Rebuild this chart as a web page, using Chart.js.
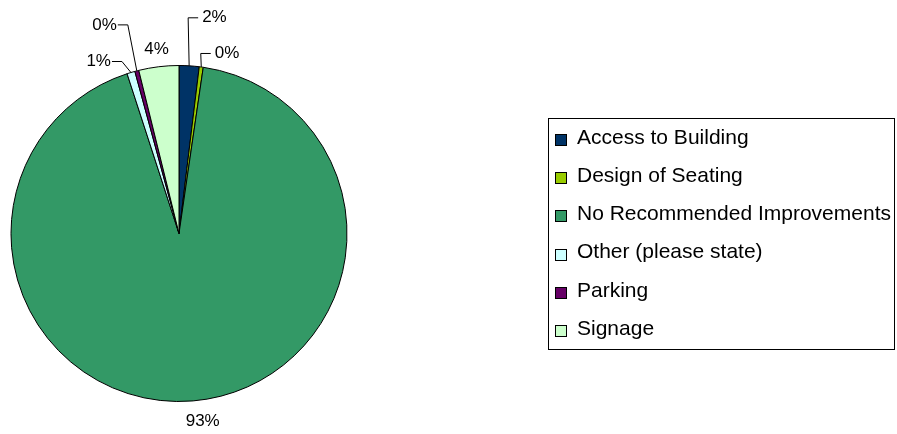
<!DOCTYPE html>
<html>
<head>
<meta charset="utf-8">
<script src="https://cdn.jsdelivr.net/npm/chart.js@4/dist/chart.umd.min.js"></script>
<style>
  html, body { margin: 0; padding: 0; background: #fff; }
  #wrap { width: 897px; height: 434px; }
</style>
</head>
<body>
<div id="wrap"><canvas id="pie" width="897" height="434"></canvas></div>
<script>
// Survey responses: suggested improvements
const categories = [
  'Access to Building',
  'Design of Seating',
  'No Recommended Improvements',
  'Other (please state)',
  'Parking',
  'Signage'
];
const responses = [5, 1, 241, 2, 1, 10];
const sliceColors = ['#003366', '#99CC00', '#339966', '#CCFFFF', '#660066', '#CCFFCC'];

// How each percentage label is placed: either radially outside the slice,
// or via a leader line with an elbow (offset from the slice edge) and a short tail.
const labelPlacement = [
  { elbow: [-1, -48], tail: 10 },
  { elbow: [-0.5, -13.5], tail: 10 },
  { radial: 18, nudge: [8, 2] },
  { elbow: [-9, -11], tail: -10 },
  { elbow: [-9, -46], tail: -10 },
  { radial: 18, nudge: [0, 0] }
];

const LABEL_FONT = '17px "Liberation Sans", Arial, sans-serif';
const LEGEND_FONT = '21px "Liberation Sans", Arial, sans-serif';

const pieLabels = {
  id: 'pieLabels',
  afterDatasetsDraw(chart) {
    const ctx = chart.ctx;
    const meta = chart.getDatasetMeta(0);
    const values = chart.data.datasets[0].data;
    const total = values.reduce((a, b) => a + b, 0);
    ctx.save();
    ctx.font = LABEL_FONT;
    ctx.fillStyle = '#000';
    ctx.strokeStyle = '#000';
    ctx.lineWidth = 1;
    ctx.textBaseline = 'middle';
    meta.data.forEach((arc, i) => {
      const p = labelPlacement[i];
      const text = Math.round(values[i] / total * 100) + '%';
      const mid = (arc.startAngle + arc.endAngle) / 2;
      const ex = arc.x + Math.cos(mid) * arc.outerRadius;
      const ey = arc.y + Math.sin(mid) * arc.outerRadius;
      if (p.radial !== undefined) {
        const r = arc.outerRadius + p.radial;
        ctx.textAlign = 'center';
        ctx.fillText(text, arc.x + Math.cos(mid) * r + p.nudge[0], arc.y + Math.sin(mid) * r + p.nudge[1]);
      } else {
        const bx = ex + p.elbow[0];
        const by = ey + p.elbow[1];
        const tx = bx + p.tail;
        ctx.beginPath();
        ctx.moveTo(ex, ey);
        ctx.lineTo(bx, by);
        ctx.lineTo(tx, by);
        ctx.stroke();
        if (p.tail > 0) {
          ctx.textAlign = 'left';
          ctx.fillText(text, tx + 4, by);
        } else {
          ctx.textAlign = 'right';
          ctx.fillText(text, tx - 1, by);
        }
      }
    });
    ctx.restore();
  }
};

const boxedLegend = {
  id: 'boxedLegend',
  afterDraw(chart) {
    const ctx = chart.ctx;
    const left = 548.5, top = 118.5, right = 894.5, bottom = 349.5;
    ctx.save();
    ctx.strokeStyle = '#000';
    ctx.lineWidth = 1;
    ctx.strokeRect(left, top, right - left, bottom - top);
    ctx.font = LEGEND_FONT;
    ctx.textBaseline = 'middle';
    ctx.textAlign = 'left';
    chart.data.labels.forEach((name, i) => {
      const cy = 138 + i * 38.2;
      ctx.fillStyle = chart.data.datasets[0].backgroundColor[i];
      ctx.fillRect(555.5, Math.round(cy - 4) + 0.5, 11, 11);
      ctx.strokeRect(555.5, Math.round(cy - 4) + 0.5, 11, 11);
      ctx.fillStyle = '#000';
      ctx.fillText(name, 577, cy);
    });
    ctx.restore();
  }
};

new Chart(document.getElementById('pie'), {
  type: 'pie',
  data: {
    labels: categories,
    datasets: [{
      data: responses,
      backgroundColor: sliceColors,
      borderColor: '#000',
      borderWidth: 1,
      hoverOffset: 0
    }]
  },
  options: {
    responsive: false,
    animation: false,
    layout: { padding: { left: 10, top: 65, right: 549, bottom: 32 } },
    plugins: {
      legend: { display: false },
      tooltip: { enabled: false }
    }
  },
  plugins: [pieLabels, boxedLegend]
});
</script>
</body>
</html>
